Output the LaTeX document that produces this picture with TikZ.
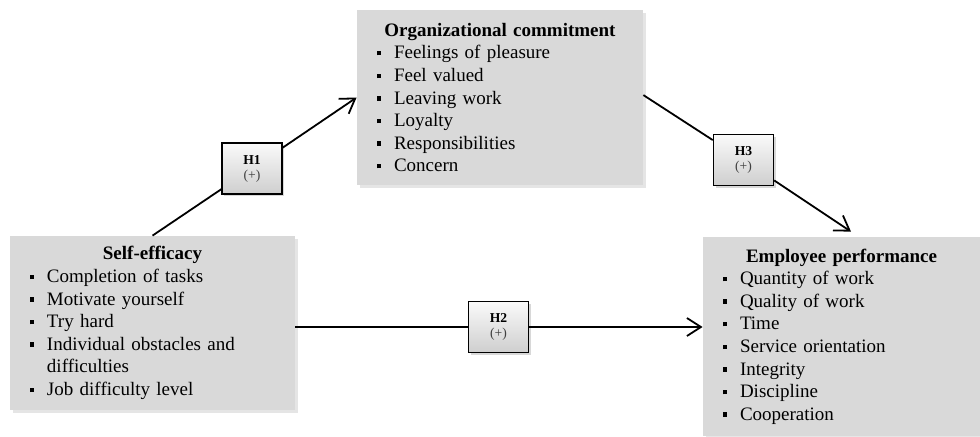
\documentclass[tikz,border=0pt]{standalone}
\usepackage{fontspec}
\setmainfont{Liberation Serif}
\usetikzlibrary{arrows.meta, positioning, shadows}
\definecolor{boxgray}{HTML}{D9D9D9}
\definecolor{plusgray}{HTML}{404040}
\newcommand{\sqitem}[1]{\rule[1.7pt]{2.2pt}{2.2pt}\hspace{6.3pt}#1}
\newcommand{\boxtitle}[1]{\makebox[\linewidth]{\textbf{#1}}}
\tikzset{
  cbox/.style={rectangle, fill=boxgray, draw=none, inner xsep=10pt,
               drop shadow={opacity=0.2, shadow xshift=1.5pt, shadow yshift=-1.5pt},
               align=left, font=\fontsize{9.5}{11.3}\selectfont},
  hyp/.style={rectangle, draw=black, line width=0.75pt, top color=gray!4,
              bottom color=gray!38, minimum width=30pt, minimum height=25.5pt,
              drop shadow={opacity=0.3, shadow xshift=1pt, shadow yshift=-1pt},
              align=center, font=\fontsize{6.8}{7.5}\selectfont},
  arr/.style={-{Straight Barb[length=7pt, width=9pt]}, line width=0.9pt},
  conn/.style={line width=0.9pt},
}

\begin{document}
\begin{tikzpicture}[x=0.5pt, y=-0.5pt]
  \path[use as bounding box, fill=white] (0,0) rectangle (980,436);

  % constructs
  \node[cbox, minimum width=142.5pt, minimum height=87pt, text width=122.5pt] (se) at (152.5,323)
    {\boxtitle{Self-efficacy}\\
     \sqitem{Completion of tasks}\\
     \sqitem{Motivate yourself}\\
     \sqitem{Try hard}\\
     \sqitem{Individual obstacles and}\\
     \hspace*{8.5pt}difficulties\\
     \sqitem{Job difficulty level}};

  \node[cbox, minimum width=143pt, minimum height=87.5pt, text width=123pt] (oc) at (500,97.5)
    {\boxtitle{Organizational commitment}\\
     \sqitem{Feelings of pleasure}\\
     \sqitem{Feel valued}\\
     \sqitem{Leaving work}\\
     \sqitem{Loyalty}\\
     \sqitem{Responsibilities}\\
     \sqitem{Concern}};

  \node[cbox, minimum width=138.5pt, minimum height=99.5pt, text width=118.5pt] (ep) at (841.5,336.5)
    {\boxtitle{Employee performance}\\
     \sqitem{Quantity of work}\\
     \sqitem{Quality of work}\\
     \sqitem{Time}\\
     \sqitem{Service orientation}\\
     \sqitem{Integrity}\\
     \sqitem{Discipline}\\
     \sqitem{Cooperation}};

  % hypotheses
  \node[hyp] (h1) at (252,168.5) {\textbf{H1}\\ \textcolor{plusgray}{(+)}};
  \node[hyp] (h2) at (498.5,327) {\textbf{H2}\\ \textcolor{plusgray}{(+)}};
  \node[hyp] (h3) at (743.5,160) {\textbf{H3}\\ \textcolor{plusgray}{(+)}};

  \draw[conn] (se.north) -- (h1);
  \draw[arr] (h1) -- (oc.west);
  \draw[conn] (h2 -| se.east) -- (h2);
  \draw[arr] (h2) -- (h2 -| ep.west);
  \draw[conn] ([yshift=1.2pt]oc.east) -- (h3);
  \draw[arr, shorten >=4.5pt] (h3) -- ([xshift=8.5pt]ep.north);
\end{tikzpicture}
\end{document}
